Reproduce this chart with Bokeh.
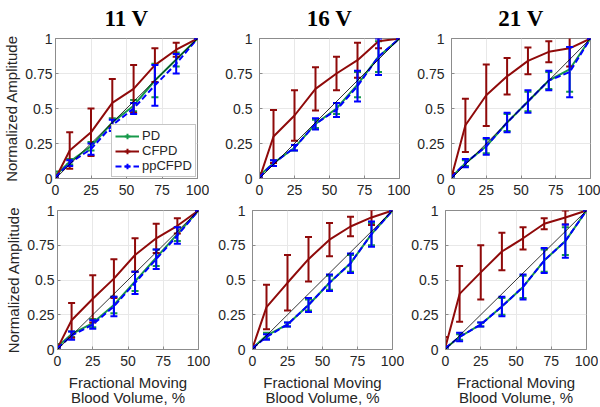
from bokeh.plotting import figure
from bokeh.layouts import row, column
from bokeh.models import Range1d, Legend, LegendItem, ColumnDataSource
from bokeh.embed import file_html
from bokeh.resources import INLINE

# ---------------- data ----------------
volume = [0, 10, 25, 40, 55, 70, 85, 100]
identity_x = [0, 100]
identity_y = [0, 1]
titles = ["11 V", "16 V", "21 V"]
x_ticks = [0, 25, 50, 75, 100]
y_ticks = [0, 0.25, 0.5, 0.75, 1]
y_tick_labels = ["0", "0.25", "0.5", "0.75", "1"]
series_names = ["PD", "CFPD", "ppCFPD"]

# top row, 11 V
pd_11a = [0.02, 0.12, 0.23, 0.40, 0.52, 0.70, 0.85, 1.0]
pd_11a_err = [0.03, 0.02, 0.03, 0.03, 0.04, 0.12, 0.05, 0.0]
cf_11a = [0.0, 0.20, 0.33, 0.54, 0.64, 0.81, 0.92, 1.0]
cf_11a_err = [0.0, 0.13, 0.17, 0.17, 0.17, 0.12, 0.05, 0.0]
pp_11a = [0.01, 0.11, 0.21, 0.38, 0.50, 0.665, 0.82, 1.0]
pp_11a_err = [0.01, 0.02, 0.04, 0.04, 0.04, 0.145, 0.07, 0.0]

# top row, 16 V
pd_16a = [0.02, 0.11, 0.22, 0.39, 0.50, 0.67, 0.87, 1.0]
pd_16a_err = [0.02, 0.02, 0.02, 0.03, 0.04, 0.09, 0.11, 0.0]
cf_16a = [0.0, 0.30, 0.45, 0.64, 0.75, 0.845, 0.98, 1.0]
cf_16a_err = [0.0, 0.19, 0.18, 0.155, 0.12, 0.125, 0.05, 0.0]
pp_16a = [0.01, 0.11, 0.22, 0.39, 0.49, 0.66, 0.87, 1.0]
pp_16a_err = [0.01, 0.02, 0.02, 0.04, 0.05, 0.11, 0.13, 0.0]

# top row, 21 V
pd_21a = [0.01, 0.11, 0.23, 0.40, 0.55, 0.70, 0.78, 1.0]
pd_21a_err = [0.01, 0.02, 0.05, 0.06, 0.07, 0.06, 0.16, 0.0]
cf_21a = [0.01, 0.38, 0.595, 0.73, 0.84, 0.905, 0.93, 1.0]
cf_21a_err = [0.03, 0.19, 0.22, 0.13, 0.095, 0.075, 0.13, 0.0]
pp_21a = [0.01, 0.11, 0.23, 0.40, 0.55, 0.70, 0.76, 1.0]
pp_21a_err = [0.01, 0.03, 0.06, 0.07, 0.08, 0.07, 0.18, 0.0]

# bottom row, 11 V
pd_11b = [0.02, 0.11, 0.19, 0.32, 0.49, 0.66, 0.83, 1.0]
pd_11b_err = [0.02, 0.02, 0.03, 0.06, 0.07, 0.06, 0.05, 0.0]
cf_11b = [0.01, 0.21, 0.365, 0.51, 0.68, 0.80, 0.89, 1.0]
cf_11b_err = [0.01, 0.125, 0.17, 0.14, 0.12, 0.105, 0.055, 0.0]
pp_11b = [0.01, 0.10, 0.18, 0.31, 0.48, 0.65, 0.82, 1.0]
pp_11b_err = [0.01, 0.03, 0.03, 0.07, 0.08, 0.07, 0.06, 0.0]

# bottom row, 16 V
pd_16b = [0.01, 0.10, 0.18, 0.32, 0.48, 0.62, 0.83, 1.0]
pd_16b_err = [0.01, 0.02, 0.015, 0.04, 0.05, 0.06, 0.08, 0.0]
cf_16b = [0.01, 0.305, 0.48, 0.65, 0.79, 0.885, 0.95, 1.0]
cf_16b_err = [0.01, 0.16, 0.20, 0.16, 0.12, 0.07, 0.055, 0.0]
pp_16b = [0.01, 0.09, 0.18, 0.32, 0.48, 0.62, 0.83, 1.0]
pp_16b_err = [0.01, 0.02, 0.015, 0.05, 0.06, 0.07, 0.09, 0.0]

# bottom row, 21 V
pd_21b = [0.01, 0.09, 0.18, 0.31, 0.45, 0.64, 0.78, 1.0]
pd_21b_err = [0.01, 0.02, 0.015, 0.06, 0.08, 0.08, 0.10, 0.0]
cf_21b = [0.02, 0.40, 0.555, 0.705, 0.80, 0.905, 0.95, 1.0]
cf_21b_err = [0.07, 0.20, 0.195, 0.135, 0.08, 0.04, 0.05, 0.0]
pp_21b = [0.01, 0.09, 0.18, 0.31, 0.45, 0.64, 0.78, 1.0]
pp_21b_err = [0.01, 0.03, 0.015, 0.07, 0.09, 0.09, 0.12, 0.0]

# ---------------- style ----------------
GREEN = "#17994a"
RED = "#8f0a0a"
BLUE = "#0000ff"
FRAME = "#8c8c8c"
TEXT = "#262626"
SANS = "Liberation Sans"


def draw_series(p, y, err, color, dash):
    lo = [a - b for a, b in zip(y, err)]
    hi = [a + b for a, b in zip(y, err)]
    src = ColumnDataSource(dict(x=volume, y=y, lo=lo, hi=hi))
    ln = p.line("x", "y", source=src, line_color=color, line_width=2, line_dash=dash)
    p.segment("x", "lo", "x", "hi", source=src, line_color=color, line_width=2)
    p.scatter("x", "lo", source=src, marker="dash", size=7, line_color=color, line_width=2)
    p.scatter("x", "hi", source=src, marker="dash", size=7, line_color=color, line_width=2)
    icon = p.scatter("x", "y", source=src, marker="cross", size=0, line_color=color, line_width=2)
    return [ln, icon]


def make_panel(pd, pd_err, cf, cf_err, pp, pp_err, left, fw, right, top, fh, bottom,
               title=None, ylabel=False, xlabel=False, legend=False):
    p = figure(output_backend="svg", toolbar_location=None,
               frame_width=fw, frame_height=fh,
               min_border_left=left, min_border_right=right,
               min_border_top=top, min_border_bottom=bottom,
               x_range=Range1d(0, 100), y_range=Range1d(0, 1),
               background_fill_color="white", border_fill_color="white")
    if title:
        p.title.text = title
        p.title.align = "center"
        p.title.vertical_align = "top"
        p.title.text_font = "Liberation Serif"
        p.title.text_font_size = "23px"
        p.title.text_font_style = "bold"
        p.title.text_color = "black"
        p.title.text_line_height = 0.8
        p.title.standoff = 11
    p.outline_line_color = FRAME
    p.outline_line_width = 1
    p.xaxis.ticker = x_ticks
    p.yaxis.ticker = y_ticks
    p.yaxis.major_label_overrides = {t: s for t, s in zip(y_ticks, y_tick_labels)}
    p.xgrid.ticker = x_ticks
    p.ygrid.ticker = y_ticks
    p.grid.grid_line_color = "#e8e8e8"
    for ax in (p.xaxis, p.yaxis):
        ax.axis_line_color = FRAME
        ax.major_tick_line_color = FRAME
        ax.major_tick_in = 3
        ax.major_tick_out = 0
        ax.minor_tick_line_color = None
        ax.major_label_text_font = SANS
        ax.major_label_text_font_size = "14px"
        ax.major_label_text_color = TEXT
        ax.axis_label_text_font = SANS
        ax.axis_label_text_font_size = "15px"
        ax.axis_label_text_font_style = "normal"
        ax.axis_label_text_color = TEXT
    p.xaxis.major_label_standoff = 6
    p.xaxis.axis_label_standoff = 5
    p.xaxis.axis_label_text_line_height = 0.93
    p.yaxis.major_label_standoff = 3 if ylabel else 7
    p.yaxis.axis_label_standoff = 2
    if ylabel:
        p.yaxis.axis_label = "Normalized Amplitude"
    if xlabel:
        p.xaxis.axis_label = "Fractional Moving\nBlood Volume, %"

    r_pd = draw_series(p, pd, pd_err, GREEN, "solid")
    r_cf = draw_series(p, cf, cf_err, RED, "solid")
    r_pp = draw_series(p, pp, pp_err, BLUE, "6 3")
    p.line(identity_x, identity_y, line_color="black", line_width=0.8)

    if legend:
        lg = Legend(items=[LegendItem(label=series_names[0], renderers=r_pd),
                           LegendItem(label=series_names[1], renderers=r_cf),
                           LegendItem(label=series_names[2], renderers=r_pp)],
                    location=(56, 1))
        lg.label_text_font = SANS
        lg.label_text_font_size = "13px"
        lg.label_text_color = TEXT
        lg.glyph_width = 24
        lg.glyph_height = 14
        lg.label_height = 14
        lg.label_standoff = 3
        lg.spacing = 0
        lg.padding = 3
        lg.margin = 0
        lg.border_line_color = FRAME
        lg.border_line_width = 1
        lg.background_fill_color = "white"
        lg.background_fill_alpha = 1
        p.add_layout(lg, "center")
    return p


f1 = make_panel(pd_11a, pd_11a_err, cf_11a, cf_11a_err, pp_11a, pp_11a_err,
                53, 142, 12, 38, 140, 24, title=titles[0], ylabel=True, legend=True)
f2 = make_panel(pd_16a, pd_16a_err, cf_16a, cf_16a_err, pp_16a, pp_16a_err,
                50, 140, 11, 38, 140, 24, title=titles[1])
f3 = make_panel(pd_21a, pd_21a_err, cf_21a, cf_21a_err, pp_21a, pp_21a_err,
                41, 139, 10, 38, 140, 24, title=titles[2])
f4 = make_panel(pd_11b, pd_11b_err, cf_11b, cf_11b_err, pp_11b, pp_11b_err,
                57, 141, 12, 8, 139, 58, ylabel=True, xlabel=True)
f5 = make_panel(pd_16b, pd_16b_err, cf_16b, cf_16b_err, pp_16b, pp_16b_err,
                42, 140, 12, 8, 139, 58, xlabel=True)
f6 = make_panel(pd_21b, pd_21b_err, cf_21b, cf_21b_err, pp_21b, pp_21b_err,
                41, 141, 12, 8, 139, 58, xlabel=True)

layout = column(row(f1, f2, f3), row(f4, f5, f6))

with open("out.html", "w") as fh:
    fh.write(file_html(layout, INLINE))
